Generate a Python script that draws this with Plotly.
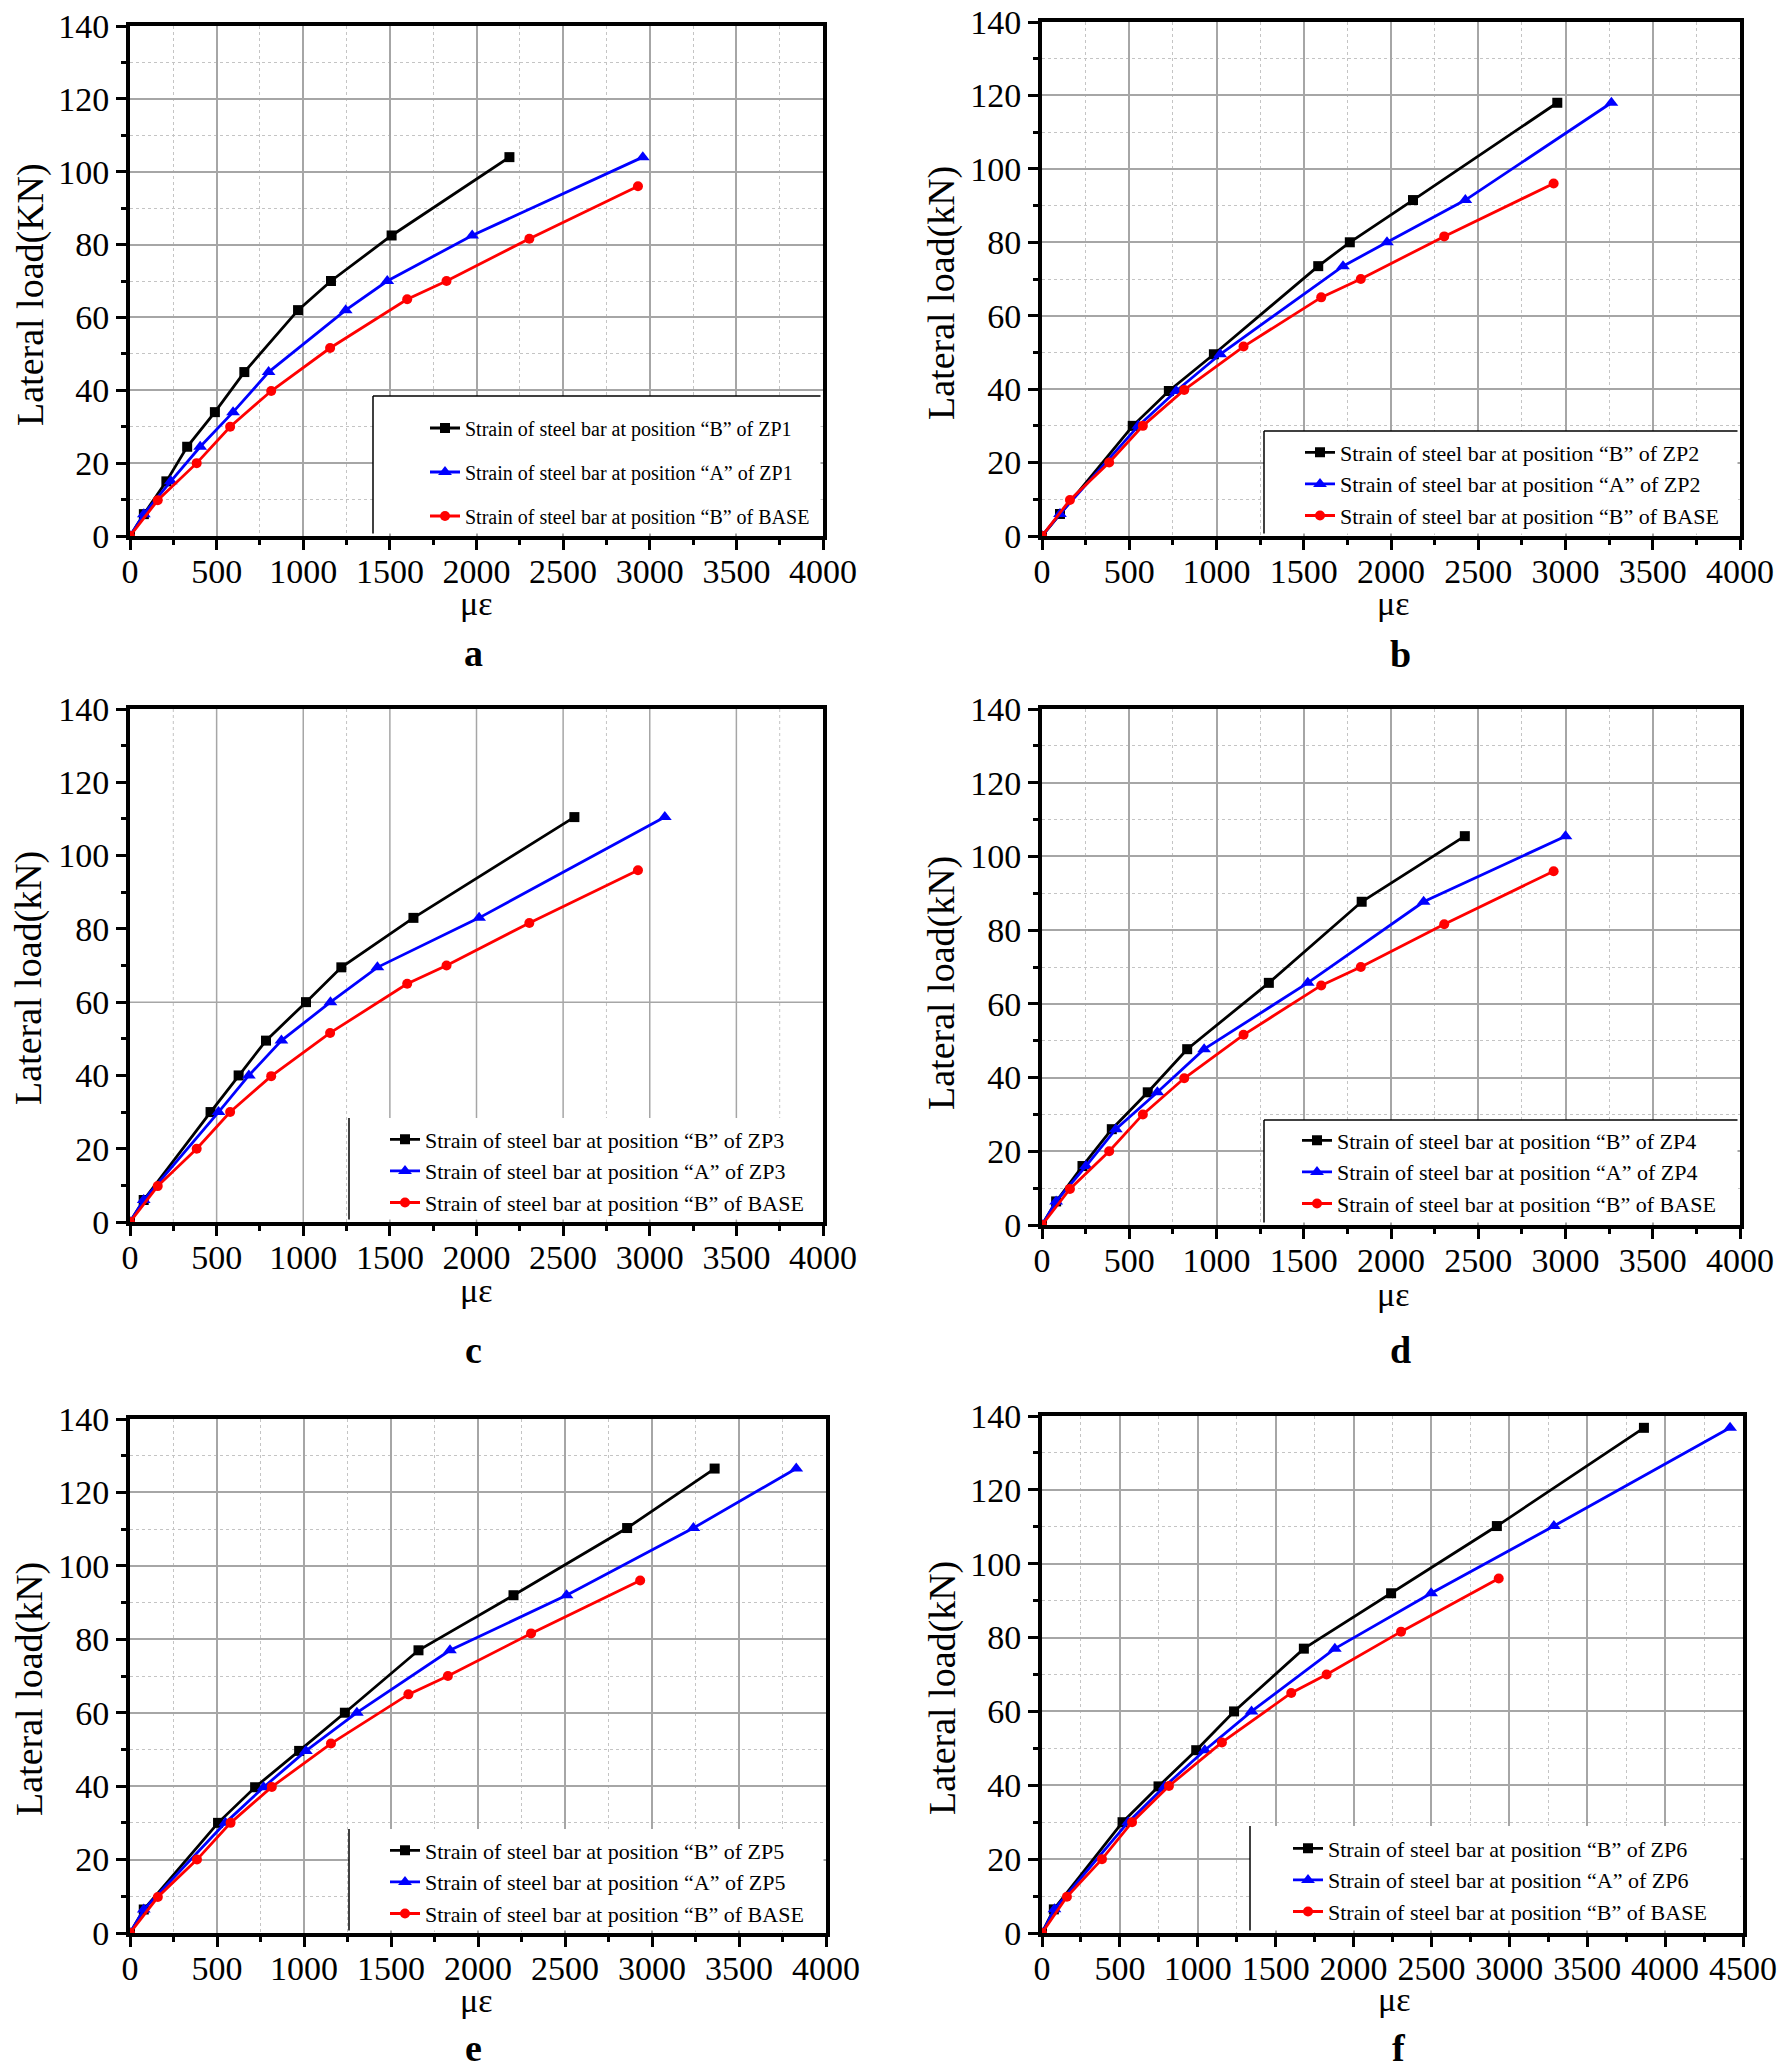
import plotly.graph_objects as go

# ---------------- data ----------------
strain_base = [0, 160, 385, 578, 815, 1155, 1600, 1827, 2305, 2932]
load_base = [0, 9.8, 20, 30, 39.8, 51.6, 65, 70, 81.6, 96]

load_zp1 = [0, 6, 15, 24.5, 34, 45, 62, 70, 82.5, 104]
strain_zp1_B = [0, 80, 210, 330, 490, 660, 970, 1160, 1510, 2190]
strain_zp1_A = [0, 80, 235, 405, 595, 800, 1245, 1485, 1975, 2960]

load_zp2 = [0, 6, 30, 39.5, 49.5, 73.5, 80, 91.5, 118]
strain_zp2_B = [0, 103, 520, 727, 985, 1583, 1764, 2126, 2953]
strain_zp2_A = [0, 103, 552, 769, 1021, 1725, 1977, 2426, 3263]

load_zp3 = [0, 6, 30, 40, 49.5, 60, 69.5, 83, 110.5]
strain_zp3_B = [0, 79, 465, 627, 785, 1016, 1220, 1636, 2565]
strain_zp3_A = [0, 79, 511, 686, 874, 1157, 1428, 2015, 3087]

load_zp4 = [0, 6.4, 16, 26, 36, 47.7, 65.7, 87.7, 105.5]
strain_zp4_B = [0, 81, 232, 400, 606, 832, 1300, 1832, 2423]
strain_zp4_A = [0, 81, 252, 423, 661, 929, 1523, 2187, 3000]

load_zp5 = [0, 6.4, 30, 39.7, 49.6, 60, 77, 92, 110.3, 126.5]
strain_zp5_B = [0, 79, 506, 719, 972, 1235, 1658, 2204, 2857, 3360]
strain_zp5_A = [0, 79, 548, 768, 1011, 1304, 1839, 2509, 3238, 3829]

load_zp6 = [0, 6.4, 30, 39.7, 49.5, 60, 77, 92, 110.2, 136.8]
strain_zp6_B = [0, 76, 517, 748, 990, 1233, 1681, 2241, 2920, 3864]
strain_zp6_A = [0, 80, 553, 788, 1045, 1345, 1880, 2498, 3286, 4417]

specimens = ["ZP1", "ZP2", "ZP3", "ZP4", "ZP5", "ZP6"]
panel_letters = ["a", "b", "c", "d", "e", "f"]
y_titles = ["Lateral load(KN)", "Lateral load(kN)", "Lateral load(kN)",
            "Lateral load(kN)", "Lateral load(kN)", "Lateral load(kN)"]
x_title = "με"
x_max = [4000, 4000, 4000, 4000, 4000, 4500]
y_max = 140

series_B = [strain_zp1_B, strain_zp2_B, strain_zp3_B, strain_zp4_B, strain_zp5_B, strain_zp6_B]
series_A = [strain_zp1_A, strain_zp2_A, strain_zp3_A, strain_zp4_A, strain_zp5_A, strain_zp6_A]
loads = [load_zp1, load_zp2, load_zp3, load_zp4, load_zp5, load_zp6]

# ---------------- layout geometry (page pixels) ----------------
W, H = 1785, 2071
OFF = 8  # default page body margin offsets the figure by 8px
FONT = "Liberation Serif"
boxes = [(130, 823, 26, 536), (1042, 1740, 22, 536), (130, 823, 709, 1222),
         (1042, 1740, 709, 1225), (130, 826, 1419, 1933), (1042, 1743, 1416, 1933)]
ytitle_pos = [(30, 295), (941, 293), (29, 978), (941, 983), (29, 1689), (942, 1688)]
xtitle_pos = [(476, 603), (1393, 603), (476, 1290), (1393, 1294), (476, 2000), (1394, 1999)]
label_pos = [(473, 653), (1400, 654), (473, 1350), (1400, 1350), (473, 2048), (1399, 2048)]
legend_left = [425, 1300, 385, 1297, 385, 1288]
legend_mid = [472, 484, 1171, 1172, 1882, 1880]
legend_font = [20, 22, 22, 22, 22, 22]
# legend box: left px, top px, full border?
legend_box = [(373, 396, True), (1264, 431, True), (349, 1118, False),
              (1264, 1120, True), (349, 1829, False), (1250, 1826, False)]


def fx(p):
    return (p - OFF) / W


def fy(p):
    return 1 - (p - OFF) / H


fig = go.Figure()
shapes = []
annotations = []
layout = dict(width=W, height=H, margin=dict(l=0, r=0, t=0, b=0, autoexpand=False),
              paper_bgcolor="white", plot_bgcolor="white", showlegend=True,
              font=dict(family=FONT, color="black"))

MAJOR_GRID = "#a6a6a6"
MINOR_GRID = "#c4c4c4"

for i in range(6):
    n = "" if i == 0 else str(i + 1)
    xa, ya = "x" + n, "y" + n
    lg = "legend" + n
    x0, x1, y0, y1 = boxes[i]
    custom_grid = (i == 2)
    common = dict(showline=True, linewidth=4, linecolor="black", mirror=True,
                  ticks="outside", ticklen=10, tickwidth=3, tickcolor="black",
                  tickfont=dict(family=FONT, size=34, color="black"),
                  showgrid=not custom_grid, gridcolor=MAJOR_GRID, gridwidth=1.5,
                  zeroline=False, fixedrange=True, automargin=False,
                  ticklabeloverflow="allow")
    layout["xaxis" + n] = dict(common, domain=[fx(x0), fx(x1)], anchor=ya,
                               range=[0, x_max[i]], dtick=500, tick0=0,
                               ticklabelstandoff=-8,
                               minor=dict(dtick=250, ticks="outside", ticklen=5, tickwidth=3,
                                          tickcolor="black", showgrid=not custom_grid,
                                          gridcolor=MINOR_GRID, griddash="dot", gridwidth=1))
    layout["yaxis" + n] = dict(common, domain=[fy(y1), fy(y0)], anchor=xa,
                               range=[0, y_max], dtick=20, tick0=0,
                               minor=dict(dtick=10, ticks="outside", ticklen=5, tickwidth=3,
                                          tickcolor="black", showgrid=not custom_grid,
                                          gridcolor=MINOR_GRID, griddash="dot", gridwidth=1))

    sp = specimens[i]
    traces = [
        (series_B[i], loads[i], "black", "square", 10, f"Strain of steel bar at position “B” of {sp}"),
        (series_A[i], loads[i], "blue", "triangle-up", 12, f"Strain of steel bar at position “A” of {sp}"),
        (strain_base, load_base, "red", "circle", 10, "Strain of steel bar at position “B” of BASE"),
    ]
    for k, (xs, ys, col, sym, ms, name) in enumerate(traces):
        fig.add_trace(go.Scatter(x=xs, y=ys, mode="lines+markers", name=name,
                                 line=dict(color=col, width=2.8),
                                 marker=dict(color=col, symbol=sym, size=ms),
                                 xaxis=xa, yaxis=ya, legend=lg,
                                 legendgroup=f"g{i}_{k}"))

    leg = dict(x=fx(legend_left[i]), y=fy(legend_mid[i]), xanchor="left", yanchor="middle",
               bgcolor="rgba(0,0,0,0)", borderwidth=0,
               font=dict(family=FONT, size=legend_font[i], color="black"),
               tracegroupgap=15 if i == 0 else 0)
    layout[lg] = leg

    # legend background box (drawn above the grid, inset from the axis lines)
    lx, ly, full = legend_box[i]
    dx0 = (lx - x0) / (x1 - x0)
    dx1 = 1 - 2.5 / (x1 - x0)
    dy0 = 2.5 / (y1 - y0)
    dy1 = (y1 - ly) / (y1 - y0)
    shapes.append(dict(type="rect", xref=xa + " domain", yref=ya + " domain",
                       x0=dx0, x1=dx1, y0=dy0, y1=dy1, fillcolor="white",
                       line=dict(width=0), layer="above"))
    shapes.append(dict(type="line", xref=xa + " domain", yref=ya + " domain",
                       x0=dx0, x1=dx0, y0=dy0, y1=dy1,
                       line=dict(width=1.5, color="black"), layer="above"))
    if full:
        shapes.append(dict(type="line", xref=xa + " domain", yref=ya + " domain",
                           x0=dx0, x1=dx1, y0=dy1, y1=dy1,
                           line=dict(width=1.5, color="black"), layer="above"))

    # custom grid for panel c (only partial grid visible in reference)
    if custom_grid:
        for gx in [500, 1000, 1500, 2000, 2500, 3000, 3500]:
            shapes.append(dict(type="line", xref=xa, yref=ya, x0=gx, x1=gx, y0=0, y1=y_max,
                               line=dict(color=MAJOR_GRID, width=1.5), layer="below"))
        for gx in [250, 1250, 2750, 3750]:
            shapes.append(dict(type="line", xref=xa, yref=ya, x0=gx, x1=gx, y0=0, y1=y_max,
                               line=dict(color=MINOR_GRID, width=1, dash="dot"), layer="below"))
        shapes.append(dict(type="line", xref=xa, yref=ya, x0=0, x1=x_max[i], y0=60, y1=60,
                           line=dict(color=MAJOR_GRID, width=1.5), layer="below"))

    tx, ty = ytitle_pos[i]
    annotations.append(dict(text=y_titles[i], x=fx(tx), y=fy(ty), xref="paper", yref="paper",
                            xanchor="center", yanchor="middle", textangle=-90, showarrow=False,
                            font=dict(family=FONT, size=38, color="black")))
    tx, ty = xtitle_pos[i]
    annotations.append(dict(text=x_title, x=fx(tx), y=fy(ty), xref="paper", yref="paper",
                            xanchor="center", yanchor="middle", showarrow=False,
                            font=dict(family=FONT, size=34, color="black")))
    tx, ty = label_pos[i]
    annotations.append(dict(text="<b>" + panel_letters[i] + "</b>", x=fx(tx), y=fy(ty),
                            xref="paper", yref="paper", xanchor="center", yanchor="middle",
                            showarrow=False, font=dict(family=FONT, size=38, color="black")))

layout["shapes"] = shapes
layout["annotations"] = annotations
fig.update_layout(**layout)
fig.write_html("out.html")
